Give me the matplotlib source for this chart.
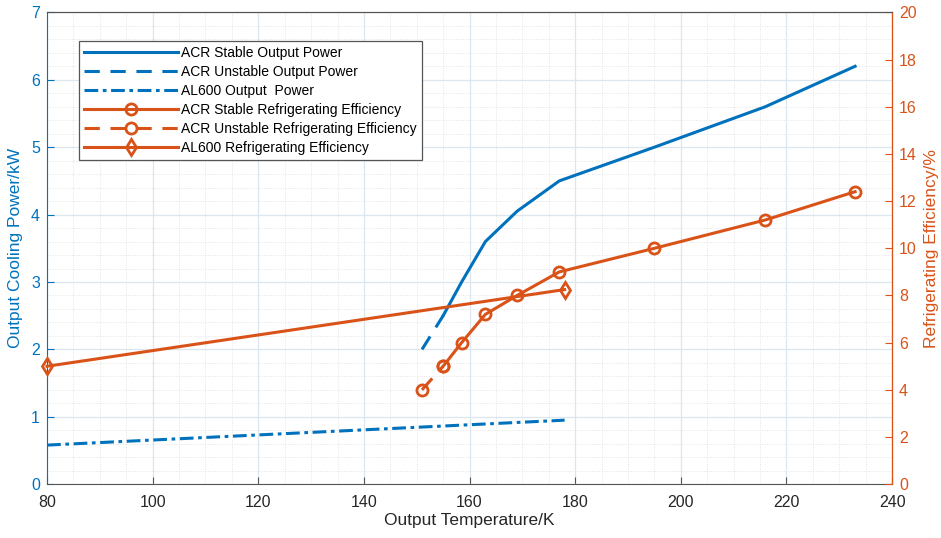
import numpy as np
import matplotlib.pyplot as plt
from matplotlib.ticker import MultipleLocator

plt.rcParams['font.family'] = ['Liberation Sans', 'DejaVu Sans']

blue = '#0072BD'
orange = '#D95319'
dark = '#262626'

# ACR output power (kW)
acr_unstable_T = [151, 155]
acr_unstable_P = [2.0, 2.5]
acr_stable_T = [155, 158.5, 163, 169, 177, 195, 216, 233]
acr_stable_P = [2.5, 3.0, 3.6, 4.05, 4.5, 5.0, 5.6, 6.2]

# AL600 output power (kW)
al_T = [80, 178]
al_P = [0.58, 0.95]

# ACR refrigerating efficiency (%)
acr_eff_unstable_T = [151, 155]
acr_eff_unstable = [4.0, 5.0]
acr_eff_stable_T = [155, 158.5, 163, 169, 177, 195, 216, 233]
acr_eff_stable = [5.0, 6.0, 7.2, 8.0, 9.0, 10.0, 11.2, 12.4]

# AL600 refrigerating efficiency (%)
al_eff_T = [80, 178]
al_eff = [5.0, 8.25]

fig = plt.figure(figsize=(9.41, 5.38), dpi=100)
ax1 = fig.add_axes([0.05, 0.1, 0.898, 0.877])
ax2 = ax1.twinx()

lw = 2.2
dash = (0, (5, 3.5))
h1, = ax1.plot(acr_stable_T, acr_stable_P, color=blue, lw=lw, label='ACR Stable Output Power')
h2, = ax1.plot(acr_unstable_T, acr_unstable_P, color=blue, lw=lw, linestyle=dash,
               label='ACR Unstable Output Power')
h3, = ax1.plot(al_T, al_P, color=blue, lw=lw, linestyle=(0, (4.5, 1.5, 1.2, 1.5)),
               label='AL600 Output  Power')

mk = dict(marker='o', markersize=8, markerfacecolor='none', markeredgewidth=2, clip_on=False)
h4, = ax2.plot(acr_eff_stable_T, acr_eff_stable, color=orange, lw=lw,
               label='ACR Stable Refrigerating Efficiency', **mk)
h5, = ax2.plot(acr_eff_unstable_T, acr_eff_unstable, color=orange, lw=lw, linestyle=dash,
               label='ACR Unstable Refrigerating Efficiency', **mk)
h6, = ax2.plot(al_eff_T, al_eff, color=orange, lw=lw, marker='d', markersize=8.5,
               markerfacecolor='none', markeredgewidth=2, clip_on=False,
               label='AL600 Refrigerating Efficiency')

ax1.set_xlim(80, 240)
ax1.set_ylim(0, 7)
ax2.set_ylim(0, 20)
ax1.xaxis.set_major_locator(MultipleLocator(20))
ax1.xaxis.set_minor_locator(MultipleLocator(5))
ax1.yaxis.set_major_locator(MultipleLocator(1))
ax1.yaxis.set_minor_locator(MultipleLocator(0.2))
ax2.yaxis.set_major_locator(MultipleLocator(2))

ax1.grid(True, which='major', color='#dbe6ef', lw=0.9)
ax1.grid(True, which='minor', color='#e4e4e4', lw=0.7, linestyle=(0, (1, 1.5)))
ax1.set_axisbelow(True)

ax1.tick_params(axis='x', which='major', direction='in', length=5, labelsize=11.5,
                colors='#555555', labelcolor=dark, pad=8)
ax1.tick_params(axis='x', which='minor', length=0)
ax1.tick_params(axis='y', which='major', direction='in', length=5, labelsize=11.5,
                colors=blue, labelcolor=blue, pad=5)
ax1.tick_params(axis='y', which='minor', length=0)
ax2.tick_params(axis='y', direction='in', length=5, labelsize=11.5, colors=orange,
                labelcolor=orange, pad=5)

for s in ['top', 'bottom']:
    ax1.spines[s].set_color('#555555')
ax1.spines['left'].set_color(blue)
ax2.spines['right'].set_color(orange)
ax2.spines['left'].set_visible(False)
ax2.spines['top'].set_color('#555555')
ax2.spines['bottom'].set_visible(False)

ax1.set_xlabel('Output Temperature/K', fontsize=12.5, color=dark, labelpad=2)
ax1.set_ylabel('Output Cooling Power/kW', fontsize=12.5, color=blue, labelpad=6)
ax2.set_ylabel('Refrigerating Efficiency/%', fontsize=12.5, color=orange, labelpad=5)

leg = ax2.legend(handles=[h1, h2, h3, h4, h5, h6], loc='upper left',
                 bbox_to_anchor=(0.038, 0.939), fontsize=10, handlelength=6.8,
                 handletextpad=0.2, labelspacing=0.36, borderaxespad=0, borderpad=0.35,
                 fancybox=False, framealpha=1, edgecolor='#555555')
leg.get_frame().set_linewidth(0.9)

fig.savefig('out.png', dpi=100)
